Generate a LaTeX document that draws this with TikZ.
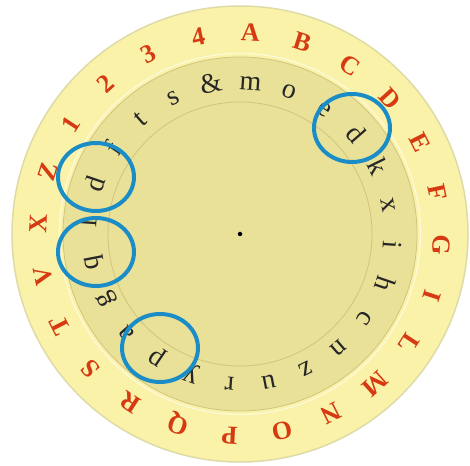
\documentclass[tikz,border=0pt]{standalone}
\usepackage{fontspec}
\setmainfont{Liberation Serif}
\usepackage{tikz}

\definecolor{discpale}{HTML}{FAF2A8}
\definecolor{discedge}{HTML}{DEDBA6}
\definecolor{disckhaki}{HTML}{EAE199}
\definecolor{discline}{HTML}{CFC47E}
\definecolor{capred}{HTML}{D63A12}
\definecolor{lensblue}{HTML}{1A8DC6}

\begin{document}
\begin{tikzpicture}[x=1pt, y=1pt,
    outer letter/.style={text=capred, anchor=base, inner sep=0pt, font=\fontsize{26}{26}\selectfont\bfseries},
    inner letter/.style={text=black!85, anchor=base, inner sep=0pt, font=\fontsize{28}{28}\selectfont},
    lens/.style={draw=lensblue, line width=4pt}]
		\useasboundingbox (-240,-231) rectangle (230,234);
		\filldraw[fill=discpale, draw=discedge, line width=1.5pt] (0,0) circle (228);
		\draw[white!60!discpale, line width=1.2pt] (0,0) circle (180.5);
		\filldraw[fill=disckhaki, draw=discline, line width=0.8pt] (0,0) circle (177);
		\draw[discline, line width=0.8pt] (0,0) circle (132);
		\foreach \c [count=\i from 0] in {A,B,C,D,E,F,G,I,L,M,N,O,P,Q,R,S,T,V,X,Z,1,2,3,4}
			\node[outer letter, rotate={-3-15*\i}] (outer-\i) at ({87-15*\i}:193) {\c};
		\foreach \c [count=\i from 0] in {m,o,e,d,k,x,i,h,c,n,z,u,r,y,p,a,g,q,l,d,f,t,s,\&}
			\node[inner letter, rotate={-4-15*\i}] (inner-\i) at ({86-15*\i}:144) {\c};
		\node[circle, fill=black, inner sep=0pt, minimum size=4.5pt] (hub) at (0,0) {};
		\foreach \p in {(112,106), (-144,57), (-144,-18), (-80,-114)}
			\draw[lens] \p ellipse (38 and 34);
	\end{tikzpicture}
\end{document}
